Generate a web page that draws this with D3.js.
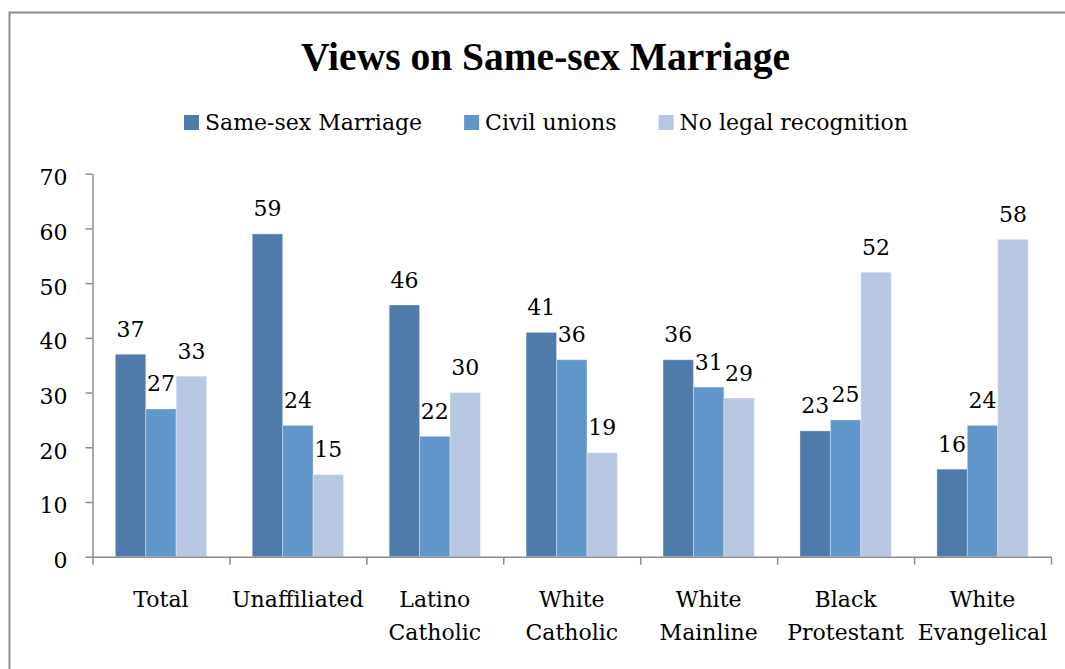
<!DOCTYPE html>
<html>
<head>
<meta charset="utf-8">
<script src="https://cdn.jsdelivr.net/npm/d3@7"></script>
<style>
  html, body { margin: 0; padding: 0; background: #fff; }
  svg { display: block; }
</style>
</head>
<body>
<svg id="chart" width="1065" height="669"></svg>
<script>
// Survey groups (line breaks split the two-line labels)
const categories = ["Total", "Unaffiliated", "Latino\nCatholic", "White\nCatholic",
                    "White\nMainline", "Black\nProtestant", "White\nEvangelical"];
const seriesNames = ["Same-sex Marriage", "Civil unions", "No legal recognition"];
const sameSexMarriage   = [37, 59, 46, 41, 36, 23, 16];
const civilUnions       = [27, 24, 22, 36, 31, 25, 24];
const noLegalRecognition = [33, 15, 30, 19, 29, 52, 58];
const yTicks = [0, 10, 20, 30, 40, 50, 60, 70];

const seriesValues = [sameSexMarriage, civilUnions, noLegalRecognition];
const colors = ["#4f7bab", "#6096c9", "#b8c7e1"];

const svg = d3.select("#chart");
const bodyFont = "'DejaVu Serif', serif";
const titleFont = "'Liberation Serif', serif";

// Outer frame (open on the right and bottom)
svg.append("path")
  .attr("d", "M9.5,669 V12.5 H1065")
  .attr("fill", "none").attr("stroke", "#8c8c8c").attr("stroke-width", 2);

// Title
svg.append("text")
  .attr("x", 545.5).attr("y", 70)
  .attr("text-anchor", "middle")
  .attr("font-family", titleFont).attr("font-weight", "bold")
  .attr("font-size", 39.5).attr("fill", "#000")
  .text("Views on Same-sex Marriage");

// Plot geometry
const plot = { left: 92.5, right: 1051, top: 173.7, bottom: 556.7 };

const x0 = d3.scaleBand().domain(categories).range([plot.left, plot.right]).padding(0);
const x1 = d3.scaleBand().domain(seriesNames).range([0, x0.bandwidth()])
  .paddingInner(0).paddingOuter(0.75);
const y = d3.scaleLinear().domain([0, 70]).range([plot.bottom, plot.top]);

// Bars
const groups = svg.append("g").selectAll("g")
  .data(categories).join("g")
  .attr("transform", d => `translate(${x0(d)},0)`);

const barData = (c, i) => seriesNames.map((s, k) => ({ series: s, k, value: seriesValues[k][i] }));

groups.each(function (c, i) {
  const g = d3.select(this);
  const data = barData(c, i);
  g.selectAll("rect").data(data).join("rect")
    .attr("x", d => x1(d.series))
    .attr("y", d => y(d.value))
    .attr("width", x1.bandwidth())
    .attr("height", d => y(0) - y(d.value))
    .attr("fill", d => colors[d.k])
    .attr("stroke", "rgba(255,255,255,0.35)")
    .attr("stroke-width", 1);
  g.selectAll("text.val").data(data).join("text")
    .attr("class", "val")
    .attr("x", d => x1(d.series) + x1.bandwidth() / 2)
    .attr("y", d => y(d.value) - 17.5)
    .attr("text-anchor", "middle")
    .attr("font-family", bodyFont).attr("font-size", 22).attr("fill", "#000")
    .text(d => d.value);
});

// Y axis
const yAxis = svg.append("g")
  .attr("transform", `translate(${plot.left},0)`)
  .call(d3.axisLeft(y).tickValues(yTicks).tickSize(7).tickPadding(18).tickSizeOuter(0));
yAxis.selectAll("path, line").attr("stroke", "#8c8c8c").attr("stroke-width", 1.5);
yAxis.selectAll("text")
  .attr("font-family", bodyFont).attr("font-size", 22).attr("fill", "#000")
  .attr("dy", "0.5em");

// X axis with ticks on category boundaries
const xb = d3.scaleLinear().domain([0, categories.length]).range([plot.left, plot.right]);
const xAxis = svg.append("g")
  .attr("transform", `translate(0,${plot.bottom})`)
  .call(d3.axisBottom(xb).tickValues(d3.range(categories.length + 1)).tickSize(8)
    .tickFormat("").tickSizeOuter(0));
xAxis.selectAll("path, line").attr("stroke", "#8c8c8c").attr("stroke-width", 1.5);

// Category labels
const catLabels = svg.append("g").selectAll("text")
  .data(categories).join("text")
  .attr("x", d => x0(d) + x0.bandwidth() / 2)
  .attr("y", 607)
  .attr("text-anchor", "middle")
  .attr("font-family", bodyFont).attr("font-size", 22).attr("fill", "#000");
catLabels.each(function (d) {
  const t = d3.select(this);
  d.split("\n").forEach((line, j) => {
    t.append("tspan")
      .attr("x", x0(d) + x0.bandwidth() / 2)
      .attr("dy", j === 0 ? 0 : 33)
      .text(line);
  });
});

// Legend, centred under the title
const legend = svg.append("g");
const items = legend.selectAll("g").data(seriesNames).join("g");
items.append("rect")
  .attr("width", 15).attr("height", 15)
  .attr("y", -15)
  .attr("fill", (d, i) => colors[i]);
items.append("text")
  .attr("x", 21).attr("y", 0)
  .attr("font-family", bodyFont).attr("font-size", 22).attr("fill", "#000")
  .text(d => d);
let cursor = 0;
items.each(function () {
  const w = 21 + d3.select(this).select("text").node().getComputedTextLength();
  d3.select(this).attr("transform", `translate(${cursor},0)`);
  cursor += w + 42;
});
const legendWidth = cursor - 42;
legend.attr("transform", `translate(${546 - legendWidth / 2},130)`);
</script>
</body>
</html>
